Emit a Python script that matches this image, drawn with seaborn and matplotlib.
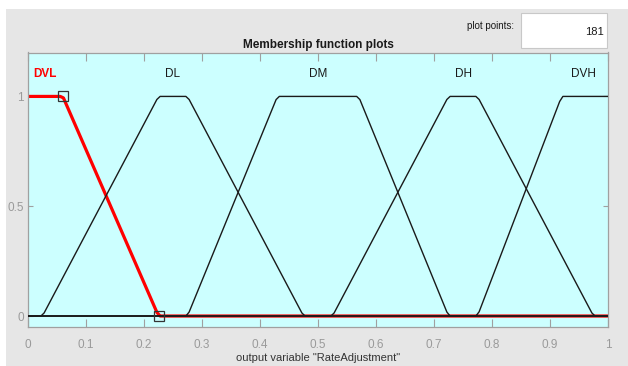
import numpy as np
import pandas as pd
import matplotlib
matplotlib.use("Agg")
import matplotlib.pyplot as plt
from matplotlib import font_manager
from matplotlib.patches import Rectangle
import seaborn as sns

# Membership functions of the output variable (trapezoid parameters a, b, c, d)
mf_names = ["DVL", "DL", "DM", "DH", "DVH"]
mf_a = [-0.20, 0.025, 0.275, 0.525, 0.775]
mf_b = [-0.05, 0.225, 0.430, 0.725, 0.920]
mf_c = [0.060, 0.275, 0.570, 0.775, 1.000]
mf_d = [0.225, 0.475, 0.725, 0.975, 1.200]
label_x = [0.03, 0.25, 0.50, 0.75, 0.957]
selected = "DVL"

x_ticks = [0, 0.1, 0.2, 0.3, 0.4, 0.5, 0.6, 0.7, 0.8, 0.9, 1]
x_tick_labels = ["0", "0.1", "0.2", "0.3", "0.4", "0.5", "0.6", "0.7", "0.8", "0.9", "1"]
y_ticks = [0, 0.5, 1]
y_tick_labels = ["0", "0.5", "1"]
plot_points = 181

sns.set_style("white")
available = {f.name for f in font_manager.fontManager.ttflist}
narrow = "Liberation Sans Narrow" if "Liberation Sans Narrow" in available else "Liberation Sans"
plt.rcParams["font.family"] = [narrow, "DejaVu Sans"]

xs = np.linspace(0, 1, plot_points)


def trapmf(x, a, b, c, d):
    return np.interp(x, [a, b, c, d], [0, 1, 1, 0], left=0, right=0)


rows = []
for name, a, b, c, d in zip(mf_names, mf_a, mf_b, mf_c, mf_d):
    for xv, yv in zip(xs, trapmf(xs, a, b, c, d)):
        rows.append({"mf": name, "x": xv, "mu": yv})
df = pd.DataFrame(rows)

fig = plt.figure(figsize=(6.28, 3.66), dpi=100)
fig.patch.set_facecolor("white")
# gray window panel
fig.patches.append(Rectangle((6 / 628, 0), 1, 1 - 9 / 366, transform=fig.transFigure,
                             facecolor="#e6e6e6", edgecolor="none", zorder=-10))

ax = fig.add_axes([28 / 628, 1 - 327 / 366, 580 / 628, 274.5 / 366])
ax.set_facecolor("#ccffff")

# selected function first (red, thick), others drawn over it
sel = df[df["mf"] == selected]
sns.lineplot(data=sel, x="x", y="mu", ax=ax, color="#ff0000", linewidth=2.3,
             estimator=None, sort=False, zorder=2)
others = df[df["mf"] != selected]
sns.lineplot(data=others, x="x", y="mu", units="mf", estimator=None, sort=False,
             color="#1a1a1a", linewidth=1.0, ax=ax, zorder=3)

# vertex handles of the selected function
i = mf_names.index(selected)
hx = np.array([mf_c[i], mf_d[i]])
hy = trapmf(hx, mf_a[i], mf_b[i], mf_c[i], mf_d[i])
ax.plot(hx, hy, linestyle="none", marker="s", markersize=6.5, markerfacecolor="none",
        markeredgecolor="#333333", markeredgewidth=0.9, zorder=4)

for name, lx in zip(mf_names, label_x):
    ax.text(lx, 1.1, name, ha="center", va="center", fontsize=8.5,
            color="#ff0000" if name == selected else "#1a1a1a",
            fontweight="bold" if name == selected else "normal")

ax.set_xlim(0, 1)
ax.set_ylim(-0.05, 1.2)
ax.set_xticks(x_ticks)
ax.set_xticklabels(x_tick_labels)
ax.set_yticks(y_ticks)
ax.set_yticklabels(y_tick_labels)
ax.tick_params(axis="x", direction="in", length=6, width=0.8, color="#a0a0a0",
               labelcolor="#9a9a9a", labelsize=8.5, top=True, bottom=True, pad=9)
ax.tick_params(axis="y", direction="in", length=3.5, width=0.8, color="#a0a0a0",
               labelcolor="#9a9a9a", labelsize=8.5, left=True, right=True, pad=3)
ax.set_xlabel("")
ax.set_ylabel("")
for s in ax.spines.values():
    s.set_color("#a0a0a0")
    s.set_linewidth(0.9)

ax.set_title("Membership function plots", fontsize=8.5, fontweight="bold",
             color="#1a1a1a", pad=3)

fig.text(318 / 628, 1 - 358 / 366, 'output variable "RateAdjustment"', ha="center",
         va="center", fontsize=8, color="#333333")

# plot points field
fig.text(490 / 628, 1 - 26 / 366, "plot points:", ha="center", va="center",
         fontsize=7, color="#1a1a1a")
fig.patches.append(Rectangle((521 / 628, 1 - 48 / 366), 86 / 628, 35 / 366,
                             transform=fig.transFigure, facecolor="white",
                             edgecolor="#c8c8c8", linewidth=0.8, zorder=1))
fig.text(604 / 628, 1 - 32 / 366, str(plot_points), ha="right", va="center",
         fontsize=8, color="#1a1a1a", zorder=2)

fig.savefig("out.png", dpi=100, facecolor=fig.get_facecolor())
